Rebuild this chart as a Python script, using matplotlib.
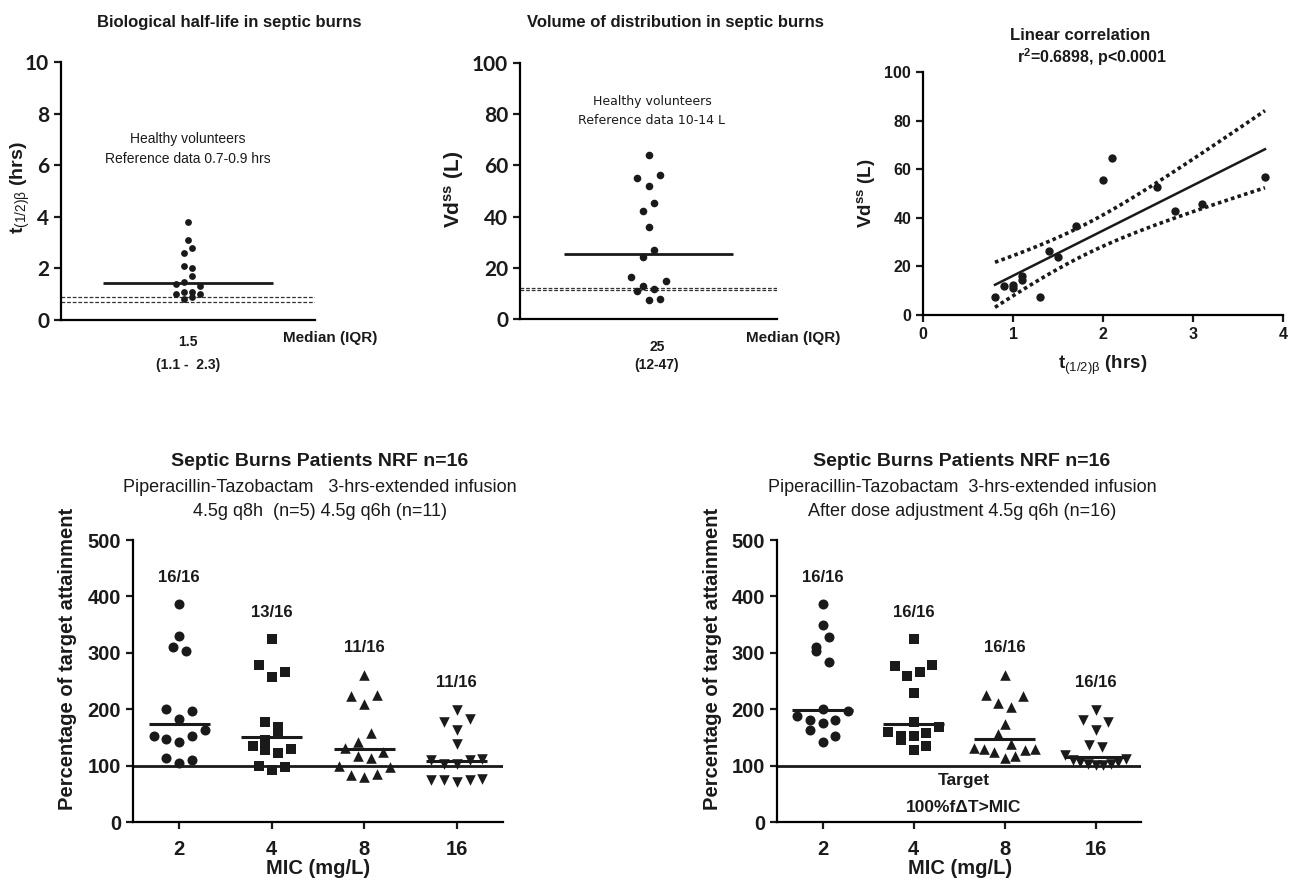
import numpy as np
import matplotlib
matplotlib.use("Agg")
import matplotlib.pyplot as plt

NARROW = ["Liberation Sans Narrow", "Liberation Sans", "DejaVu Sans"]
plt.rcParams["font.family"] = NARROW
plt.rcParams["mathtext.fontset"] = "custom"
plt.rcParams["mathtext.rm"] = "Liberation Sans"
plt.rcParams["mathtext.bf"] = "Liberation Sans:bold"
plt.rcParams["mathtext.it"] = "Liberation Sans:italic"
plt.rcParams["mathtext.default"] = "rm"
plt.rcParams["axes.linewidth"] = 1.6

INK = "#1a1a1a"

# ---- top row data (rows of the dot columns, top to bottom, left to right)
hl_rows = [[3.78], [3.11], [2.59, 2.79], [2.10, 2.01], [1.39, 1.49, 1.70, 1.30],
           [1.00, 1.08, 1.08, 1.00], [0.80, 0.89]]
hl_median = 1.45
hl_ref = [0.7, 0.9]

vd_rows = [[63.9], [54.9, 52.0, 56.4], [42.2, 45.4], [36.1], [24.2, 26.9],
           [16.3, 12.7, 11.9, 14.7], [11.0, 7.4, 7.7]]
vd_median = 25.2
vd_ref = [11.5, 12.3]

corr_t = [0.8, 0.9, 1.0, 1.0, 1.1, 1.1, 1.3, 1.4, 1.5, 1.7, 2.0, 2.1, 2.6, 2.8, 3.1, 3.8]
corr_vd = [7.3, 11.8, 12.5, 11.1, 15.9, 14.5, 7.5, 26.5, 23.7, 36.5, 55.6, 64.5, 52.5, 42.7, 45.8, 56.9]
T_CRIT = 2.1448  # t(0.975, df=14)

# ---- bottom row data
mic_labels = ["2", "4", "8", "16"]

before_groups = [
    [[386], [330], [310, 304], [200, 182, 197], [153, 147, 142, 153, 163], [113, 104, 110]],
    [[324], [278, 257, 266], [178, 168], [145, 158], [135, 128, 122, 129], [100, 93, 97]],
    [[261], [223, 209, 226], [132, 141, 157, 124], [117, 114], [99, 83, 80, 85, 98]],
    [[199], [177, 164, 182], [138], [110, 102, 102, 110, 112], [75, 74, 71, 74, 76]],
]
before_medians = [174, 150, 129, 108]
before_fracs = ["16/16", "13/16", "11/16", "11/16"]

after_groups = [
    [[386], [350], [310, 328], [303, 283], [188, 180, 200, 181, 197], [164, 175, 153], [141]],
    [[324], [277, 258, 266, 278], [228], [178], [160, 152, 152, 158, 168], [145, 128, 135]],
    [[261], [225, 211, 204, 224], [173], [156, 138], [132, 129, 124, 114, 117, 128, 130]],
    [[199], [181, 164, 177], [137, 133], [119, 110, 106, 103, 101, 101, 103, 107, 112]],
]
after_medians = [198, 173, 148, 116]
after_fracs = ["16/16", "16/16", "16/16", "16/16"]

target = 100


def swarm(rows, step, max_half):
    xs, ys = [], []
    for row in rows:
        n = len(row)
        s = step if n == 1 else min(step, 2 * max_half / (n - 1))
        for i, v in enumerate(row):
            xs.append((i - (n - 1) / 2) * s)
            ys.append(v)
    return np.array(xs), np.array(ys)


fig = plt.figure(figsize=(13, 8.9), dpi=100)


def fx(px):
    return px / 1300


def fy(py):
    return 1 - py / 890


def axes_px(x0, y0, x1, y1):
    ax = fig.add_axes([fx(x0), fy(y1), (x1 - x0) / 1300, (y1 - y0) / 890])
    for s in ["top", "right"]:
        ax.spines[s].set_visible(False)
    ax.tick_params(direction="out", length=5, width=1.6, color=INK)
    return ax


def ftext(px, py, s, **kw):
    kw.setdefault("ha", "center")
    kw.setdefault("va", "center")
    kw.setdefault("color", INK)
    fig.text(fx(px), fy(py), s, **kw)


BIGTICK = dict(fontfamily=["Lato", "DejaVu Sans"], fontweight="bold", fontsize=15, color=INK)

# ---------------- top left: half-life
ax1 = axes_px(61, 62, 315, 320)
ax1.set_xlim(0, 1)
ax1.set_ylim(0, 10)
dx, yy = swarm(hl_rows, 0.0315, 0.2)
ax1.scatter(0.5 + dx, yy, s=24, color=INK, linewidths=0, zorder=3)
ax1.hlines(hl_median, 0.165, 0.835, color=INK, lw=2)
for r in hl_ref:
    ax1.axhline(r, color="#333333", lw=0.9, ls=(0, (3, 1.5)))
ax1.set_xticks([])
ax1.set_yticks(range(0, 11, 2), labels=[str(v) for v in range(0, 11, 2)], **BIGTICK)

ftext(229, 22, "Biological half-life in septic burns", fontfamily="Liberation Sans",
      fontweight="bold", fontsize=12)
ftext(20, 188, r"$\mathbf{t}_{(1/2)β}$ $\mathbf{(hrs)}$", rotation=90, fontsize=14)
ftext(188, 139, "Healthy volunteers", fontsize=10)
ftext(188, 159, "Reference data 0.7-0.9 hrs", fontsize=10)
ftext(188, 342, "1.5", fontsize=10, fontweight="bold")
ftext(188, 365, "(1.1 -  2.3)", fontsize=10, fontweight="bold")
ftext(330, 338, "Median (IQR)", fontfamily="Liberation Sans", fontweight="bold", fontsize=11)

# ---------------- top middle: volume of distribution
ax2 = axes_px(520, 63, 777, 319)
ax2.set_xlim(0, 1)
ax2.set_ylim(0, 100)
dx, yy = swarm(vd_rows, 0.0455, 0.2)
ax2.scatter(0.5 + dx, yy, s=30, color=INK, linewidths=0, zorder=3)
ax2.hlines(vd_median, 0.17, 0.83, color=INK, lw=2)
for r in vd_ref:
    ax2.axhline(r, color="#333333", lw=0.9, ls=(0, (3, 1.5)))
ax2.set_xticks([])
ax2.set_yticks(range(0, 101, 20), labels=[str(v) for v in range(0, 101, 20)], **BIGTICK)

ftext(675, 22, "Volume of distribution in septic burns", fontfamily="Liberation Sans",
      fontweight="bold", fontsize=12)
ftext(454, 189, r"$\mathbf{Vd^{ss}}$ $\mathbf{(L)}$", rotation=90, fontsize=15)
ftext(652, 101, "Healthy volunteers", fontfamily="DejaVu Sans", fontsize=9)
ftext(652, 121, "Reference data 10-14 L", fontfamily="DejaVu Sans", fontsize=9)
ftext(657, 347, "25", fontsize=10, fontweight="bold")
ftext(657, 365, "(12-47)", fontsize=10, fontweight="bold")
ftext(793, 338, "Median (IQR)", fontfamily="Liberation Sans", fontweight="bold", fontsize=11)

# ---------------- top right: correlation
ax3 = axes_px(923, 72, 1283, 315)
ax3.set_xlim(0, 4)
ax3.set_ylim(0, 100)
xt = np.array(corr_t)
yv = np.array(corr_vd)
ax3.scatter(xt, yv, s=36, color=INK, linewidths=0, zorder=3)
slope, icpt = np.polyfit(xt, yv, 1)
xs = np.linspace(xt.min(), xt.max(), 60)
fit = slope * xs + icpt
resid = yv - (slope * xt + icpt)
s_err = np.sqrt(np.sum(resid ** 2) / (len(xt) - 2))
sxx = np.sum((xt - xt.mean()) ** 2)
half = T_CRIT * s_err * np.sqrt(1 / len(xt) + (xs - xt.mean()) ** 2 / sxx)
ax3.plot(xs, fit, color=INK, lw=1.8)
ax3.plot(xs, fit + half, color=INK, lw=2.6, ls=(0, (1, 0.9)))
ax3.plot(xs, fit - half, color=INK, lw=2.6, ls=(0, (1, 0.9)))
SMALLTICK = dict(fontfamily="Liberation Sans", fontweight="bold", fontsize=11.5, color=INK)
ax3.set_xticks(range(0, 5), labels=[str(v) for v in range(0, 5)], **SMALLTICK)
ax3.set_yticks(range(0, 101, 20), labels=[str(v) for v in range(0, 101, 20)], **SMALLTICK)

ftext(1080, 36, "Linear correlation", fontfamily="Liberation Sans", fontweight="bold", fontsize=12)
ftext(1092, 57, r"r$^{\mathbf{2}}$=0.6898, p<0.0001", fontweight="bold", fontsize=11.5)
ftext(1103, 365, r"$\mathbf{t}_{(1/2)β}$ $\mathbf{(hrs)}$", fontsize=13.5)
ftext(866, 193, r"$\mathbf{Vd^{ss}}$ $\mathbf{(L)}$", rotation=90, fontsize=13.5)

# ---------------- bottom panels
MARKERS = [("o", 52), ("s", 48), ("^", 58), ("v", 58)]


def target_panel(ax, groups, medians, fracs):
    ax.set_xlim(-0.5, 3.5)
    ax.set_ylim(0, 500)
    ax.axhline(target, color=INK, lw=2, zorder=2)
    for i, rows in enumerate(groups):
        dx, yy = swarm(rows, 0.138, 0.333)
        mk, sz = MARKERS[i]
        ax.scatter(i + dx, yy, marker=mk, s=sz, color=INK, linewidths=0, zorder=3)
        ax.hlines(medians[i], i - 0.33, i + 0.33, color=INK, lw=2.2, zorder=4)
        ax.text(i, max(max(r) for r in rows) + 48, fracs[i], ha="center", va="center",
                fontweight="bold", fontsize=12, color=INK)
    tk = dict(fontweight="bold", fontsize=14.5, color=INK)
    ax.set_xticks(range(4), labels=mic_labels, **tk)
    ax.set_yticks(range(0, 501, 100), labels=[str(v) for v in range(0, 501, 100)], **tk)
    ax.tick_params(axis="x", pad=8)


ax4 = axes_px(133, 540, 503, 822)
target_panel(ax4, before_groups, before_medians, before_fracs)
ftext(320, 462, "Septic Burns Patients NRF n=16", fontfamily="Liberation Sans",
      fontweight="bold", fontsize=14)
ftext(320, 488, "Piperacillin-Tazobactam   3-hrs-extended infusion", fontsize=13)
ftext(320, 511, "4.5g q8h  (n=5) 4.5g q6h (n=11)", fontsize=13)
ftext(68, 659, "Percentage of target attainment", rotation=90, fontfamily="Liberation Sans",
      fontweight="bold", fontsize=14.5)
ftext(318, 868, "MIC (mg/L)", fontweight="bold", fontsize=14.5)

ax5 = axes_px(777, 540, 1141, 822)
target_panel(ax5, after_groups, after_medians, after_fracs)
ax5.text(1.55, 74, "Target", ha="center", va="center", fontweight="bold", fontsize=12.5, color=INK)
ax5.text(1.55, 25, "100%fΔT>MIC", ha="center", va="center", fontweight="bold", fontsize=12.5,
         color=INK)
ftext(962, 462, "Septic Burns Patients NRF n=16", fontfamily="Liberation Sans",
      fontweight="bold", fontsize=14)
ftext(962, 488, "Piperacillin-Tazobactam  3-hrs-extended infusion", fontsize=13)
ftext(962, 511, "After dose adjustment 4.5g q6h (n=16)", fontsize=13)
ftext(713, 659, "Percentage of target attainment", rotation=90, fontfamily="Liberation Sans",
      fontweight="bold", fontsize=14.5)
ftext(960, 868, "MIC (mg/L)", fontweight="bold", fontsize=14.5)

fig.savefig("out.png", dpi=100, facecolor="white")
